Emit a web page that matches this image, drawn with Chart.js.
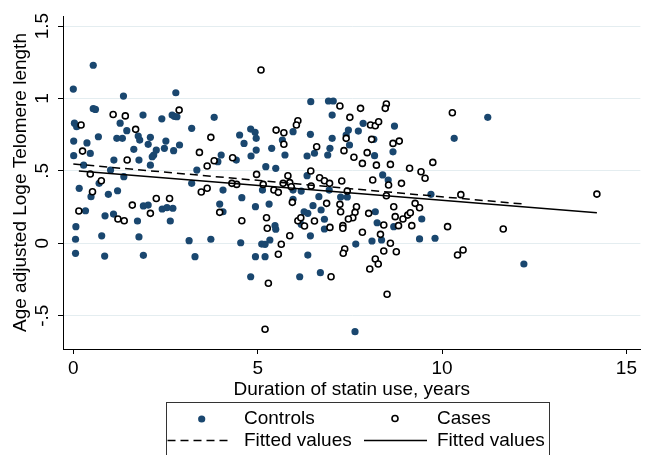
<!DOCTYPE html>
<html>
<head>
<meta charset="utf-8">
<script src="https://cdn.jsdelivr.net/npm/chart.js@4.4.1/dist/chart.umd.min.js"></script>
<style>
  body { margin: 0; background: #fff; }
  #wrap { width: 646px; height: 455px; position: relative; }
</style>
</head>
<body>
<div id="wrap"><canvas id="scatter" width="646" height="455"></canvas></div>
<script>
// controls (filled markers)
const controlsX = [0.54, 0.00, 1.36, 2.78, 0.54, 0.60, 0.03, 0.09, 1.27, 1.89, 2.40, 2.68, 2.74, 2.81, 3.21, 1.45,
  0.68, 0.01, 0.37, 1.18, 1.33, 1.76, 1.80, 2.09, 2.03, 2.51, 2.88, 2.47, 2.72, 1.64, 2.25, 2.18, 2.14, 0.46,
  0.01, 1.10, 1.78, 2.09, 3.35, 0.28, 1.01, 1.37, 0.70, 0.16, 1.20, 0.95, 0.48, 3.21,
  0.33, 0.86, 1.09, 1.90, 2.03, 2.41, 2.54, 2.70, 0.07, 0.06, 0.77, 1.74, 1.78, 2.63, 3.14, 0.06, 0.85, 1.90, 3.30,
  6.44, 6.92, 7.05, 3.82, 4.81, 4.93, 4.96, 4.51, 4.63, 5.96, 6.43, 7.02, 7.02, 5.38, 5.67, 5.74, 4.96, 4.01,
  4.82, 3.92, 4.42, 6.34, 6.54, 6.90, 5.22, 5.49, 4.06, 4.57, 5.13, 5.96, 5.96, 6.18, 6.66, 6.34, 6.96,
  3.97, 4.94, 5.31, 4.06, 5.47, 5.49, 5.33, 5.11, 5.20, 3.73, 4.54, 4.94, 5.20, 4.81, 6.14, 6.70, 6.36, 6.43,
  6.26, 6.36, 6.50, 6.72, 6.81, 6.81, 6.18,
  7.46, 7.40, 7.73, 7.86, 7.49, 8.15, 8.17, 8.71, 8.67, 10.33, 8.39, 8.54, 6.94, 7.25, 7.43, 9.70,
  8.19, 8.24, 8.69, 9.45, 7.66, 8.10, 8.36, 9.39, 9.81, 7.64, 11.24, 12.22];
const controlsY = [1.23, 1.065, 1.017, 1.04, 0.93, 0.925, 0.83, 0.805, 0.83, 0.886, 0.86, 0.886, 0.877, 0.874, 0.794, 0.778,
  0.736, 0.706, 0.693, 0.725, 0.725, 0.741, 0.713, 0.732, 0.684, 0.706, 0.679, 0.656, 0.64, 0.649, 0.644, 0.61, 0.598, 0.621,
  0.605, 0.575, 0.575, 0.54, 0.506, 0.54, 0.506, 0.46, 0.414, 0.38, 0.363, 0.338, 0.322, 0.414,
  0.225, 0.19, 0.202, 0.258, 0.264, 0.237, 0.246, 0.242, 0.115, 0.028, 0.052, 0.154, 0.044, 0.154, 0.018, -0.069, -0.088, -0.083, -0.092,
  0.978, 0.983, 0.983, 0.87, 0.789, 0.767, 0.725, 0.748, 0.69, 0.771, 0.753, 0.886, 0.725, 0.656, 0.713, 0.61, 0.644, 0.61,
  0.603, 0.564, 0.575, 0.603, 0.622, 0.61, 0.529, 0.518, 0.368, 0.315, 0.368, 0.368, 0.304, 0.361, 0.322, 0.467, 0.656,
  0.271, 0.253, 0.271, 0.218, 0.122, 0.097, 0.023, -0.005, -0.007, 0.028, 0.004, -0.092, -0.092, -0.231, -0.231, -0.203, -0.081, 0.052,
  0.218, 0.207, 0.26, 0.23, 0.166, 0.099, 0.131,
  0.782, 0.748, 0.775, 0.829, 0.679, 0.718, 0.605, 0.81, 0.632, 0.725, 0.472, 0.437, 0.368, 0.32, 0.32, 0.338,
  0.218, 0.142, 0.115, 0.168, -0.005, 0.016, 0.023, 0.03, 0.035, -0.61, 0.87, -0.143];

// cases (hollow markers)
const casesX = [2.87, 1.08, 1.41, 0.21, 1.69, 0.25, 1.46, 3.42, 0.46, 0.76, 0.52, 2.25, 2.61, 3.47,
  0.15, 1.60, 2.09, 1.21, 1.38,
  5.09, 6.09, 6.05, 5.50, 5.71, 3.73, 5.71, 6.60, 3.82, 4.32, 3.63, 4.97, 5.82, 6.44, 6.68, 6.81, 6.95,
  4.43, 5.15, 5.69, 5.87, 5.91, 6.45, 3.63, 4.30, 5.44, 5.56,
  3.97, 4.57, 5.24, 5.26, 5.94, 5.87, 5.64, 5.56, 6.09, 6.17, 6.27, 6.54, 6.87, 6.96, 5.29, 5.20, 6.99,
  7.23, 7.79, 8.49, 8.46, 10.28, 7.50, 8.06, 8.19, 8.28, 7.40, 8.09, 8.84, 8.67, 7.34, 7.97, 7.61, 7.84,
  8.22, 8.60, 9.75, 9.12, 9.43, 9.54, 8.90, 8.12, 8.55, 7.28, 7.43, 8.49, 10.51,
  7.23, 7.25, 7.68, 7.64, 7.58, 7.46, 8.01, 8.69, 8.73, 8.94, 9.07, 9.14, 9.27, 9.39, 8.82, 9.18, 8.42,
  7.31, 7.31, 7.84, 8.33, 8.60, 8.42, 8.76, 7.36, 7.32, 8.19, 8.27, 8.04, 8.51, 10.15, 10.42, 10.57,
  14.20, 11.66];
const casesY = [0.92, 0.89, 0.88, 0.817, 0.787, 0.637, 0.575, 0.628, 0.479, 0.432, 0.356, 0.31, 0.31, 0.354,
  0.223, 0.264, 0.207, 0.168, 0.156,
  1.197, 0.847, 0.817, 0.782, 0.764, 0.732, 0.684, 0.667, 0.57, 0.591, 0.534, 0.476, 0.467, 0.499, 0.453, 0.432, 0.414,
  0.407, 0.407, 0.414, 0.419, 0.391, 0.396, 0.38, 0.414, 0.368, 0.352,
  0.214, 0.156, 0.177, 0.104, 0.283, 0.052, -0.007, -0.076, 0.156, 0.177, 0.12, 0.154, 0.276, 0.11, -0.276, -0.594, -0.231,
  0.948, 0.932, 0.962, 0.932, 0.902, 0.87, 0.817, 0.812, 0.84, 0.725, 0.718, 0.706, 0.69, 0.64, 0.626, 0.594, 0.552,
  0.54, 0.545, 0.559, 0.518, 0.494, 0.449, 0.414, 0.437, 0.403, 0.43, 0.361, 0.329, 0.336,
  0.269, 0.218, 0.253, 0.214, 0.177, 0.168, 0.207, 0.253, 0.184, 0.168, 0.195, 0.211, 0.276, 0.246, 0.122, 0.122, 0.126,
  0.122, 0.104, 0.076, 0.062, 0.0, -0.053, -0.058, -0.039, -0.069, -0.108, -0.143, -0.177, -0.352, 0.115, -0.081, -0.046,
  0.34, 0.099];

// fitted values, end points of each line
const fitControlsX = [0, 12.22];
const fitControlsY = [0.548, 0.271];
const fitCasesX = [0.15, 14.2];
const fitCasesY = [0.499, 0.211];

const xTicks = [0, 5, 10, 15];
const xTickLabels = ['0', '5', '10', '15'];
const yTicks = [-0.5, 0, 0.5, 1, 1.5];
const yTickLabels = ['-.5', '0', '.5', '1', '1.5'];

const xTitle = 'Duration of statin use, years';
const yTitle = 'Age adjusted Loge Telomere length';

const FONT = '"Liberation Sans", Arial, Helvetica, sans-serif';
const FSIZE = 19;
const NAVY = '#1a476f';

function toPoints(xs, ys) {
  return xs.map((x, i) => ({ x: x, y: ys[i] }));
}

// y labels are vertical in the original, so they get drawn here
const yLabelsPlugin = {
  id: 'yLabels',
  afterDraw(chart) {
    const ctx = chart.ctx;
    const y = chart.scales.y;
    ctx.save();
    ctx.fillStyle = '#000';
    ctx.font = FSIZE + 'px ' + FONT;
    ctx.textAlign = 'center';
    ctx.textBaseline = 'middle';
    yTicks.forEach((v, i) => {
      ctx.save();
      ctx.translate(43, y.getPixelForValue(v));
      ctx.rotate(-Math.PI / 2);
      ctx.fillText(yTickLabels[i], 0, 0);
      ctx.restore();
    });
    ctx.restore();
  }
};

// boxed 2x2 legend under the axis title
const boxLegendPlugin = {
  id: 'boxLegend',
  afterDraw(chart) {
    const ctx = chart.ctx;
    const ds = chart.data.datasets;
    ctx.save();
    ctx.strokeStyle = '#333';
    ctx.lineWidth = 1;
    ctx.strokeRect(166.5, 402.5, 383, 60);

    ctx.font = FSIZE + 'px ' + FONT;
    ctx.fillStyle = '#000';
    ctx.textBaseline = 'middle';
    ctx.textAlign = 'left';

    // controls
    ctx.beginPath();
    ctx.fillStyle = NAVY;
    ctx.arc(201.7, 419, 3.6, 0, Math.PI * 2);
    ctx.fill();
    ctx.fillStyle = '#000';
    ctx.fillText(ds[0].label, 244, 419);

    // cases
    ctx.beginPath();
    ctx.fillStyle = '#fff';
    ctx.arc(395, 418.5, 3, 0, Math.PI * 2);
    ctx.fill();
    ctx.lineWidth = 1.6;
    ctx.strokeStyle = '#000';
    ctx.stroke();
    ctx.fillStyle = '#000';
    ctx.fillText(ds[1].label, 437, 419);

    // fitted lines
    ctx.lineWidth = 1.5;
    ctx.setLineDash(ds[2].borderDash);
    ctx.beginPath();
    ctx.moveTo(167.5, 440.5);
    ctx.lineTo(232, 440.5);
    ctx.stroke();
    ctx.setLineDash([]);
    ctx.fillText(ds[2].label, 244, 441);

    ctx.beginPath();
    ctx.moveTo(364, 440.5);
    ctx.lineTo(427, 440.5);
    ctx.stroke();
    ctx.fillText(ds[3].label, 437, 441);
    ctx.restore();
  }
};

const ctx = document.getElementById('scatter');

new Chart(ctx, {
  type: 'scatter',
  data: {
    datasets: [
      {
        label: 'Controls',
        data: toPoints(controlsX, controlsY),
        backgroundColor: NAVY,
        borderWidth: 0,
        pointRadius: 3.6,
        order: 4
      },
      {
        label: 'Cases',
        data: toPoints(casesX, casesY),
        backgroundColor: '#fff',
        borderColor: '#000',
        borderWidth: 1.6,
        pointRadius: 3,
        order: 3
      },
      {
        label: 'Fitted values',
        data: toPoints(fitControlsX, fitControlsY),
        showLine: true,
        borderColor: '#000',
        borderWidth: 1.5,
        borderDash: [8, 5],
        pointRadius: 0,
        order: 2
      },
      {
        label: 'Fitted values',
        data: toPoints(fitCasesX, fitCasesY),
        showLine: true,
        borderColor: '#000',
        borderWidth: 1.5,
        pointRadius: 0,
        order: 1
      }
    ]
  },
  options: {
    responsive: false,
    animation: false,
    devicePixelRatio: 1,
    layout: { padding: { left: 0, right: 1, top: 16, bottom: 54 } },
    plugins: {
      legend: { display: false },
      tooltip: { enabled: false }
    },
    scales: {
      x: {
        type: 'linear',
        min: -0.28,
        max: 15.38,
        afterBuildTicks: (scale) => { scale.ticks = xTicks.map(v => ({ value: v })); },
        afterFit: (scale) => { scale.height = 52; },
        ticks: {
          color: '#000',
          font: { family: FONT, size: FSIZE },
          padding: 3,
          maxRotation: 0,
          callback: (v) => xTickLabels[xTicks.indexOf(v)]
        },
        grid: {
          drawOnChartArea: false,
          drawTicks: true,
          tickLength: 5,
          tickColor: '#000',
          tickWidth: 1
        },
        border: { display: true, color: '#000', width: 1 },
        title: {
          display: true,
          text: xTitle,
          color: '#000',
          font: { family: FONT, size: FSIZE },
          padding: { top: 0, bottom: 0 }
        }
      },
      y: {
        type: 'linear',
        min: -0.73,
        max: 1.57,
        afterBuildTicks: (scale) => { scale.ticks = yTicks.map(v => ({ value: v })); },
        afterFit: (scale) => { scale.width = 63; },
        ticks: { display: false },
        grid: {
          color: '#e4edf0',
          lineWidth: 1,
          drawTicks: true,
          tickLength: 5,
          tickColor: '#000',
          tickWidth: 1
        },
        border: { display: true, color: '#000', width: 1 },
        title: {
          display: true,
          text: yTitle,
          color: '#000',
          font: { family: FONT, size: FSIZE },
          padding: { top: 9, bottom: 0 }
        }
      }
    }
  },
  plugins: [yLabelsPlugin, boxLegendPlugin]
});
</script>
</body>
</html>
